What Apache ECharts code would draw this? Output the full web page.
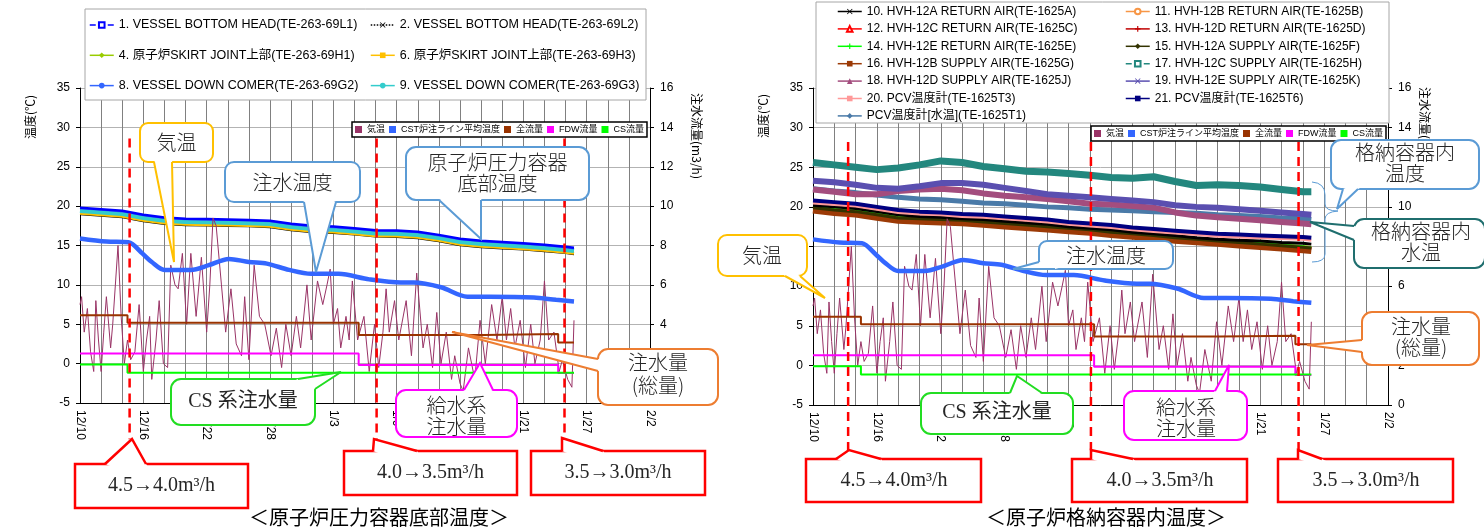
<!DOCTYPE html>
<html><head><meta charset="utf-8">
<script src="https://cdn.jsdelivr.net/npm/echarts@6/dist/echarts.min.js"></script>
<style>html,body{margin:0;padding:0;background:#fff}#c{width:1484px;height:529px}</style>
</head><body><div id="c"></div>
<script>
// ---------- data ----------
const tickLabels = ['12/10','12/16','12/22','12/28','1/3','1/9','1/15','1/21','1/27','2/2'];
// days since 12/10
const tempDays = [0,2,4,6,8,10,12,14,16,18,20,22,24,26,28,30,32,34,36,38,40,42,44,46,46.8];
// left chart: RPV bottom temperatures
const vesL1 = [19.8,19.6,19.4,18.9,18.55,18.4,18.35,18.3,18.25,18.15,17.75,17.5,17.4,17.2,16.95,16.9,16.75,16.35,15.85,15.6,15.45,15.3,15.1,14.85,14.7];
const vesL2 = [18.95,18.75,18.55,18.05,17.7,17.55,17.5,17.45,17.4,17.3,16.9,16.65,16.55,16.35,16.1,16.05,15.9,15.5,15.0,14.75,14.6,14.45,14.25,14.0,13.85];
const vesH1 = [19.3,19.1,18.9,18.4,18.05,17.9,17.85,17.8,17.75,17.65,17.25,17.0,16.9,16.7,16.45,16.4,16.25,15.85,15.35,15.1,14.95,14.8,14.6,14.35,14.2];
const vesH3 = [19.1,18.9,18.7,18.2,17.85,17.7,17.65,17.6,17.55,17.45,17.05,16.8,16.7,16.5,16.25,16.2,16.05,15.65,15.15,14.9,14.75,14.6,14.4,14.15,14.0];
const vesG2 = [19.7,19.5,19.3,18.8,18.45,18.3,18.25,18.2,18.15,18.05,17.65,17.4,17.3,17.1,16.85,16.8,16.65,16.25,15.75,15.5,15.35,15.2,15.0,14.75,14.6];
const vesG3 = [19.45,19.25,19.05,18.55,18.2,18.05,18.0,17.95,17.9,17.8,17.4,17.15,17.05,16.85,16.6,16.55,16.4,16.0,15.5,15.25,15.1,14.95,14.75,14.5,14.35];
// right chart: PCV temperatures
const pcv10 = [20.2,20.0,19.8,19.4,19.0,18.8,18.7,18.5,18.4,18.2,18.0,17.8,17.5,17.3,17.1,16.8,16.6,16.4,16.1,15.9,15.8,15.7,15.5,15.4,15.3];
const pcv11 = [20.1,19.8,19.6,19.2,18.8,18.7,18.6,18.5,18.3,18.1,17.9,17.7,17.5,17.3,17.0,16.8,16.6,16.3,16.1,15.9,15.7,15.5,15.3,15.1,15.0];
const pcv12 = [19.95,19.65,19.45,19.05,18.65,18.55,18.45,18.35,18.15,17.95,17.75,17.55,17.35,17.15,16.85,16.65,16.45,16.15,15.95,15.75,15.55,15.35,15.15,14.95,14.85];
const pcv13 = [19.8,19.5,19.3,18.9,18.5,18.4,18.3,18.2,18.0,17.8,17.6,17.4,17.2,17.0,16.7,16.5,16.3,16.0,15.8,15.6,15.4,15.2,15.0,14.8,14.7];
const pcv14 = [20.05,19.75,19.55,19.15,18.75,18.65,18.55,18.45,18.25,18.05,17.85,17.65,17.45,17.25,16.95,16.75,16.55,16.25,16.05,15.85,15.65,15.45,15.25,15.05,14.95];
const pcv15 = [19.9,19.6,19.4,19.0,18.6,18.5,18.4,18.3,18.1,17.9,17.7,17.5,17.3,17.1,16.8,16.6,16.4,16.1,15.9,15.7,15.5,15.3,15.1,14.9,14.8];
const pcv16 = [19.6,19.3,19.1,18.7,18.3,18.2,18.1,18.0,17.8,17.6,17.4,17.2,17.0,16.8,16.5,16.3,16.1,15.8,15.6,15.4,15.2,15.0,14.8,14.6,14.5];
const pcv17 = [25.6,25.3,25.0,24.7,24.9,25.3,25.8,25.6,25.1,24.8,24.5,24.4,24.2,24.0,23.7,23.6,23.8,23.2,22.7,22.8,22.7,22.5,22.2,21.9,21.9];
const pcv18 = [22.2,21.9,21.6,21.6,22.0,22.2,22.3,22.1,21.7,21.4,21.2,21.0,20.7,20.4,20.3,20.1,19.9,19.3,18.9,18.7,18.5,18.3,18.1,17.9,17.8];
const pcv19 = [23.3,23.1,22.8,22.4,22.3,22.6,23.0,23.0,22.8,22.4,22.0,21.6,21.4,21.2,21.0,20.8,20.6,20.2,20.0,19.9,19.7,19.5,19.3,19.1,19.0];
const pcv20 = [20.5,20.3,20.1,19.7,19.3,19.1,19.0,18.8,18.7,18.5,18.3,18.1,17.8,17.6,17.4,17.1,16.9,16.7,16.5,16.3,16.2,16.1,16.0,15.9,15.8];
const pcv21 = [20.8,20.6,20.4,20.0,19.6,19.4,19.3,19.1,19.0,18.8,18.6,18.4,18.1,17.9,17.7,17.4,17.2,17.0,16.8,16.6,16.5,16.4,16.3,16.2,16.1];
const pcvT1 = [22.3,22.0,21.8,21.5,21.2,21.0,20.9,20.7,20.5,20.4,20.2,20.0,19.9,19.7,19.6,19.5,19.4,19.3,19.2,19.0,18.9,18.8,18.6,18.5,18.4];
// air temperature
const airDays = [0,0.15,0.4,0.7,1.0,1.3,1.5,1.75,2.0,2.25,2.5,2.9,3.1,3.6,3.9,4.2,4.5,4.8,5.2,5.6,6.0,6.3,6.6,6.8,7.2,7.5,7.9,8.3,8.6,9.0,9.3,9.7,10.1,10.5,11.0,11.5,12.0,12.3,12.6,12.9,13.4,13.8,14.3,14.8,15.3,15.6,16.0,16.5,17.0,17.5,18.1,18.6,19.1,19.5,20.0,20.5,20.9,21.5,21.9,22.5,23.0,23.4,23.7,24.0,24.4,24.7,25.2,25.5,25.8,26.3,26.9,27.4,27.9,28.3,28.7,29.0,29.3,29.8,30.2,30.9,31.4,31.9,32.5,32.9,33.4,33.8,34.2,34.7,35.2,35.5,36.0,36.3,36.8,37.4,37.9,38.4,39.0,39.5,40.0,40.4,40.8,41.2,41.7,42.2,42.7,43.1,43.6,44.0,44.4,44.9,45.4,45.7,46.2,46.6,46.8];
const airTemp = [7.5,8.5,4.0,7.0,1.5,-1.0,8.0,3.0,-1.0,4.0,8.5,2.0,5.0,15.0,6.0,0.0,3.0,0.5,1.5,7.5,-1.0,3.0,6.0,-2.0,3.0,8.0,0.0,-0.5,12.5,10.0,9.5,14.0,5.0,14.0,6.0,13.5,4.0,10.0,18.5,17.5,10.0,4.0,9.5,2.5,1.0,8.5,0.5,12.5,6.0,5.0,1.0,4.5,-0.5,5.0,1.0,6.0,2.0,10.0,3.0,10.5,7.5,10.0,12.0,5.0,7.0,2.0,6.0,3.0,10.5,3.0,6.0,-1.0,5.0,-0.5,4.0,9.5,4.0,8.0,3.0,8.0,1.0,11.5,2.0,5.0,-0.5,6.5,0.0,4.0,-2.0,1.0,-2.5,-3.5,2.0,-2.0,5.5,0.0,7.5,3.0,8.5,3.0,7.0,2.0,5.5,-0.5,5.0,0.0,3.0,10.5,3.0,4.0,-1.0,0.5,-2.0,-3.0,5.5];
// CST injection line temperature
const cstDays = [0,2.5,4.6,5.9,6.8,8.0,10.5,12.2,14.1,16.0,17.7,19.8,21.9,24.5,27.4,30.4,31.6,34.2,36.7,38.8,43.0,45.1,46.8];
const cstTemp = [15.9,15.5,15.4,14.0,12.9,11.9,11.9,12.5,13.3,12.9,12.7,11.9,11.4,11.4,10.7,10.3,10.3,9.7,8.5,8.5,8.4,8.1,7.9];
// flows (m3/h)
const totalDays = [0,4.5,26.4,38.2,45.3,46.8];
const totalFlow = [4.46,4.07,3.46,3.5,3.07,3.07];
const fdwDays = [0,26.4,45.3,46.8];
const fdwFlow = [2.51,1.93,1.52,1.52];
const csDays = [0,4.5,46.8];
const csFlow = [1.95,1.54,1.54];
// injection-rate change markers (days)
const changeDaysL = [4.7,28.1,45.9];
const changeDaysR = [3.3,26.1,45.6];
const changeLabels = ['4.5→4.0m³/h','4.0→3.5m³/h','3.5→3.0m³/h'];

// ---------- chart ----------
const FONT = 'Liberation Sans, Noto Sans CJK JP, sans-serif';
const CJK = '"Noto Sans CJK JP"';
const pairs = (xs, ys) => xs.map((x, i) => [x, ys[i]]);
const X_SYM = 'path://M1,0L5,4L9,0L10,1L6,5L10,9L9,10L5,6L1,10L0,9L4,5L0,1Z';
const PLUS_SYM = 'path://M4,0H6V4H10V6H6V10H4V6H0V4H4Z';

function ls(name, xi, yi, xs, ys, color, width, extra) {
  return Object.assign({
    type: 'line', name, xAxisIndex: xi, yAxisIndex: yi, data: pairs(xs, ys),
    showSymbol: false, symbol: 'circle', symbolSize: 6,
    lineStyle: { color, width }, itemStyle: { color }, emphasis: { disabled: true },
    animation: false, z: 2
  }, extra || {});
}

function makeX(gi) {
  return {
    type: 'value', gridIndex: gi, min: 0, max: 54, interval: 2,
    axisLine: { show: true, onZero: false, lineStyle: { color: '#000', width: 1 } },
    axisTick: { show: false },
    splitLine: { show: true, lineStyle: { color: '#808080', width: 1 } },
    axisLabel: {
      rotate: -90, margin: 7, fontSize: 12, color: '#000', fontFamily: FONT,
      showMinLabel: true, showMaxLabel: true,
      formatter: v => { const k = Math.round(v); return k % 6 === 0 ? tickLabels[k / 6] : ''; }
    }
  };
}
function makeYT(gi) {
  return {
    type: 'value', gridIndex: gi, min: -5, max: 35, interval: 5, position: 'left',
    axisLine: { show: true, onZero: false, lineStyle: { color: '#000' } },
    axisTick: { show: true, length: 4, lineStyle: { color: '#000' } },
    splitLine: { show: true, lineStyle: { color: '#b3b3b3' } },
    axisLabel: { fontSize: 12, color: '#000', margin: 10, fontFamily: FONT }
  };
}
function makeYF(gi) {
  return {
    type: 'value', gridIndex: gi, min: 0, max: 16, interval: 2, position: 'right',
    axisLine: { show: true, onZero: false, lineStyle: { color: '#000' } },
    axisTick: { show: true, length: 4, lineStyle: { color: '#000' } },
    splitLine: { show: false },
    axisLabel: { fontSize: 12, color: '#000', margin: 10, fontFamily: FONT }
  };
}

const N = {
  L1: '1. VESSEL BOTTOM HEAD(TE-263-69L1)', L2: '2. VESSEL BOTTOM HEAD(TE-263-69L2)',
  H1: '4. 原子炉SKIRT JOINT上部(TE-263-69H1)', H3: '6. 原子炉SKIRT JOINT上部(TE-263-69H3)',
  G2: '8. VESSEL DOWN COMER(TE-263-69G2)', G3: '9. VESSEL DOWN COMER(TE-263-69G3)',
  p10: '10. HVH-12A RETURN AIR(TE-1625A)', p11: '11. HVH-12B RETURN AIR(TE-1625B)',
  p12: '12. HVH-12C RETURN AIR(TE-1625C)', p13: '13. HVH-12D RETURN AIR(TE-1625D)',
  p14: '14. HVH-12E RETURN AIR(TE-1625E)', p15: '15. HVH-12A SUPPLY AIR(TE-1625F)',
  p16: '16. HVH-12B SUPPLY AIR(TE-1625G)', p17: '17. HVH-12C SUPPLY AIR(TE-1625H)',
  p18: '18. HVH-12D SUPPLY AIR(TE-1625J)', p19: '19. HVH-12E SUPPLY AIR(TE-1625K)',
  p20: '20. PCV温度計(TE-1625T3)', p21: '21. PCV温度計(TE-1625T6)', pT1: 'PCV温度計[水温](TE-1625T1)',
  air: '気温', cst: 'CST炉注ライン平均温度', tot: '全流量', fdw: 'FDW流量', cs: 'CS流量'
};

function commonSeries(xi, yT, yF, changes, top, bot) {
  const s = [
    ls(N.air, xi, yT, airDays, airTemp, '#993366', 1),
    ls(N.cst, xi, yT, cstDays, cstTemp, '#3366ff', 4.5, { smooth: 0.3 }),
    ls(N.tot, xi, yF, totalDays, totalFlow, '#993300', 2, { step: 'end' }),
    ls(N.fdw, xi, yF, fdwDays, fdwFlow, '#ff00ff', 2, { step: 'end' }),
    ls(N.cs, xi, yF, csDays, csFlow, '#00ff00', 2, { step: 'end' })
  ];
  changes.forEach((d, i) => {
    s.push({
      type: 'line', name: 'change' + xi + '_' + i, xAxisIndex: xi, yAxisIndex: yT,
      data: [[d, top], [d, bot]], symbol: 'none', clip: false, silent: true,
      lineStyle: { color: '#ff0000', width: 2.5, type: [9, 6] }, z: 3, animation: false
    });
  });
  return s;
}

const series = [
  ls(N.L2, 0, 0, tempDays, vesL2, '#000000', 1.5, { symbol: X_SYM }),
  ls(N.H3, 0, 0, tempDays, vesH3, '#ffc000', 3, { symbol: 'rect' }),
  ls(N.H1, 0, 0, tempDays, vesH1, '#99cc00', 1.5, { symbol: 'diamond' }),
  ls(N.G3, 0, 0, tempDays, vesG3, '#33cccc', 5, { symbol: 'none' }),
  ls(N.G2, 0, 0, tempDays, vesG2, '#3366ff', 1.5, { symbol: 'circle', symbolSize: 4 }),
  ls(N.L1, 0, 0, tempDays, vesL1, '#0000ff', 2.5, { symbol: 'emptyRect' }),
  ...commonSeries(0, 0, 1, changeDaysL, 28.6, -9.6),
  ls(N.p11, 1, 2, tempDays, pcv11, '#f79646', 1.5, { symbol: 'emptyCircle' }),
  ls(N.p12, 1, 2, tempDays, pcv12, '#ff0000', 1.5, { symbol: 'emptyTriangle' }),
  ls(N.p13, 1, 2, tempDays, pcv13, '#c00000', 1.5, { symbol: PLUS_SYM }),
  ls(N.p14, 1, 2, tempDays, pcv14, '#00ff00', 1.5, { symbol: PLUS_SYM }),
  ls(N.p16, 1, 2, tempDays, pcv16, '#9c3a06', 7, { symbol: 'rect' }),
  ls(N.p15, 1, 2, tempDays, pcv15, '#333300', 3, { symbol: 'diamond' }),
  ls(N.p10, 1, 2, tempDays, pcv10, '#000000', 3, { symbol: X_SYM }),
  ls(N.p20, 1, 2, tempDays, pcv20, '#ff9999', 3, { symbol: 'rect', symbolSize: 4 }),
  ls(N.p21, 1, 2, tempDays, pcv21, '#000080', 4, { symbol: 'rect', symbolSize: 3 }),
  ls(N.pT1, 1, 2, tempDays, pcvT1, '#4a7aa8', 5, { symbol: 'diamond' }),
  ls(N.p18, 1, 2, tempDays, pcv18, '#a34d7e', 6, { symbol: 'triangle' }),
  ls(N.p19, 1, 2, tempDays, pcv19, '#5a4fb0', 6, { symbol: X_SYM }),
  ls(N.p17, 1, 2, tempDays, pcv17, '#23877e', 7, { symbol: 'emptyRect' }),
  ...commonSeries(1, 2, 3, changeDaysR, 28.2, -10.7)
];

const DASHED = { L1: 'dashed', L2: 'dotted', p17: 'dashed' };
function legendItems(keys) {
  return keys.map(k => DASHED[k] ? { name: N[k], lineStyle: { type: DASHED[k], width: 1.5 } } : N[k]);
}
function mainLegend(left, top, keys, fs, lh, gap, ih) {
  return {
    left, top, orient: 'vertical', padding: 0, itemGap: gap, itemWidth: 24, itemHeight: ih,
    data: legendItems(keys), selectedMode: false, z: 10,
    lineStyle: { width: 1.5 },
    textStyle: { fontSize: fs, lineHeight: lh, color: '#000', fontFamily: FONT }
  };
}
function innerLegend(left, top) {
  return {
    left, top, orient: 'horizontal', padding: [2, 3, 2, 3], itemGap: 4, itemWidth: 7, itemHeight: 7,
    icon: 'rect', data: [N.air, N.cst, N.tot, N.fdw, N.cs], selectedMode: false, z: 10,
    backgroundColor: '#fff', borderColor: '#000', borderWidth: 1.5,
    textStyle: { fontSize: 9, lineHeight: 11, color: '#000', fontFamily: FONT }
  };
}

// ---------- callouts (annotation graphics) ----------
function callout(c) {
  const els = [];
  const z = 50;
  els.push({ type: 'rect', z, shape: { x: c.x, y: c.y, width: c.w, height: c.h, r: c.r || 0 },
    style: { fill: '#fff', stroke: c.color, lineWidth: c.lw || 2 } });
  const cx = c.x + c.w / 2, cy = c.y + c.h / 2;
  els.push({ type: 'polygon', z: z + 1, shape: { points: [c.b1, c.tip, c.b2, [cx, cy]] }, style: { fill: '#fff', stroke: null } });
  els.push({ type: 'polyline', z: z + 2, shape: { points: [c.b1, c.tip, c.b2] },
    style: { fill: null, stroke: c.color, lineWidth: c.lw || 2, miterLimit: 3 } });
  c.lines.forEach(l => els.push({ type: 'text', z: z + 3, x: l[1], y: l[2],
    style: { text: l[0], font: c.font || ('300 20px ' + CJK), fill: '#262626',
      align: 'center', verticalAlign: 'middle', textAlign: 'center', textVerticalAlign: 'middle' } }));
  return els;
}
function qcurve(x1, y1, cx, cy, x2, y2) {
  return { type: 'bezierCurve', z: 20, shape: { x1, y1, cpx1: cx, cpy1: cy, x2, y2 }, style: { fill: null, stroke: '#5b9bd5', lineWidth: 1 } };
}
function seg(x1, y1, x2, y2) {
  return { type: 'line', z: 20, shape: { x1, y1, x2, y2 }, style: { stroke: '#5b9bd5', lineWidth: 1 } };
}
const SERIF = '20px "Liberation Serif", ' + CJK;
const BLUE = '#5b9bd5', ORANGE = '#ed7d31', YEL = '#ffc000', GREEN = '#22dd22', MAG = '#ff00ff', RED = '#ff0000';

const graphics = [
  // legend frames
  { type: 'rect', z: 8, shape: { x: 85, y: 9, width: 561, height: 91 }, style: { fill: '#fff', stroke: '#a6a6a6', lineWidth: 1 } },
  { type: 'rect', z: 8, shape: { x: 816, y: 2, width: 573, height: 121 }, style: { fill: '#fff', stroke: '#a6a6a6', lineWidth: 1 } },
  // axis titles
  { type: 'text', z: 20, x: 30, y: 117, rotation: Math.PI / 2, style: { text: '温度(℃)', font: '12px ' + CJK, fill: '#000', align: 'center', verticalAlign: 'middle' } },
  { type: 'text', z: 20, x: 697, y: 136, rotation: -Math.PI / 2, style: { text: '注水流量(m3/h)', font: '12px ' + CJK, fill: '#000', align: 'center', verticalAlign: 'middle' } },
  { type: 'text', z: 20, x: 763, y: 116, rotation: Math.PI / 2, style: { text: '温度(℃)', font: '12px ' + CJK, fill: '#000', align: 'center', verticalAlign: 'middle' } },
  { type: 'text', z: 20, x: 1425, y: 130, rotation: -Math.PI / 2, style: { text: '注水流量(m3/h)', font: '12px ' + CJK, fill: '#000', align: 'center', verticalAlign: 'middle' } },
  // titles
  { type: 'text', z: 20, x: 379, y: 517, style: { text: '＜原子炉圧力容器底部温度＞', font: '20px ' + CJK, fill: '#000', align: 'center', verticalAlign: 'middle' } },
  { type: 'text', z: 20, x: 1106, y: 517, style: { text: '＜原子炉格納容器内温度＞', font: '20px ' + CJK, fill: '#000', align: 'center', verticalAlign: 'middle' } },
  // brace
  qcurve(1312, 182, 1325, 183, 1325, 195), seg(1325, 195, 1325, 204), qcurve(1325, 204, 1325, 211, 1338, 211),
  qcurve(1338, 211, 1325, 212, 1325, 219), seg(1325, 219, 1325, 254), qcurve(1325, 254, 1325, 262, 1312, 262),
  // left chart callouts
  ...callout({ x: 140, y: 123, w: 73, h: 39, r: 8, color: YEL, b1: [154, 162], b2: [172, 162], tip: [174, 262], lines: [['気温', 176.5, 142.5]] }),
  ...callout({ x: 225, y: 162, w: 135, h: 40, r: 9, color: BLUE, b1: [304, 202], b2: [336, 202], tip: [316, 272], lines: [['注水温度', 292.5, 182]] }),
  ...callout({ x: 406, y: 147, w: 183, h: 53, r: 10, color: BLUE, b1: [439, 200], b2: [481, 200], tip: [481, 239], lines: [['原子炉圧力容器', 497.5, 162], ['底部温度', 497.5, 183]] }),
  ...callout({ x: 598, y: 349, w: 120, h: 56, r: 10, color: ORANGE, b1: [598, 359], b2: [598, 371], tip: [452, 332], lines: [['注水量', 658, 362], ['(総量)', 658, 385]] }),
  ...callout({ x: 171, y: 379, w: 144, h: 46, r: 10, color: GREEN, b1: [298, 379], b2: [315, 389], tip: [341, 372], lines: [['CS 系注水量', 243, 402]], font: SERIF }),
  ...callout({ x: 396, y: 390, w: 121, h: 47, r: 10, color: MAG, b1: [464, 390], b2: [493, 390], tip: [480, 363], lines: [['給水系', 456.5, 405], ['注水量', 456.5, 426]] }),
  ...callout({ x: 75, y: 464, w: 173, h: 44, r: 0, lw: 2.5, color: RED, b1: [105, 464], b2: [146, 464], tip: [132, 439], lines: [[changeLabels[0], 161.5, 486]], font: SERIF }),
  ...callout({ x: 344, y: 451, w: 173, h: 44, r: 0, lw: 2.5, color: RED, b1: [373, 451], b2: [417, 451], tip: [374, 439], lines: [[changeLabels[1], 430.5, 473]], font: SERIF }),
  ...callout({ x: 531, y: 451, w: 174, h: 44, r: 0, lw: 2.5, color: RED, b1: [562, 451], b2: [603, 451], tip: [562, 438], lines: [[changeLabels[2], 618, 473]], font: SERIF }),
  // right chart callouts
  ...callout({ x: 718, y: 235, w: 89, h: 41, r: 9, color: YEL, b1: [785, 276], b2: [800, 276], tip: [825, 298], lines: [['気温', 762, 255.5]] }),
  ...callout({ x: 1039, y: 241, w: 134, h: 28, r: 8, color: BLUE, b1: [1039, 262], b2: [1055, 269], tip: [1013, 269], lines: [['注水温度', 1106, 255]] }),
  ...callout({ x: 1362, y: 312, w: 117, h: 53, r: 10, color: ORANGE, b1: [1362, 340], b2: [1362, 352], tip: [1307, 345], lines: [['注水量', 1421, 326], ['(総量)', 1421, 347]] }),
  ...callout({ x: 1331, y: 140, w: 148, h: 49, r: 10, color: BLUE, b1: [1343, 189], b2: [1358, 189], tip: [1337, 209], lines: [['格納容器内', 1405, 152], ['温度', 1405, 173]] }),
  ...callout({ x: 1354, y: 219, w: 131, h: 49, r: 10, color: '#1f6e6e', b1: [1354, 226], b2: [1354, 240], tip: [1310, 222], lines: [['格納容器内', 1421, 231], ['水温', 1421, 252]] }),
  ...callout({ x: 921, y: 393, w: 152, h: 41, r: 10, color: GREEN, b1: [1010, 393], b2: [1042, 393], tip: [1017, 376], lines: [['CS 系注水量', 997, 413]], font: SERIF }),
  ...callout({ x: 1124, y: 391, w: 123, h: 49, r: 10, color: MAG, b1: [1215, 391], b2: [1227, 391], tip: [1229, 365], lines: [['給水系', 1186, 407], ['注水量', 1186, 428]] }),
  ...callout({ x: 806, y: 459, w: 175, h: 43, r: 0, lw: 2.5, color: RED, b1: [836, 459], b2: [881, 459], tip: [849, 450], lines: [[changeLabels[0], 894, 481]], font: SERIF }),
  ...callout({ x: 1072, y: 459, w: 175, h: 43, r: 0, lw: 2.5, color: RED, b1: [1091, 459], b2: [1133, 459], tip: [1091, 450], lines: [[changeLabels[1], 1160, 481]], font: SERIF }),
  ...callout({ x: 1278, y: 459, w: 175, h: 43, r: 0, lw: 2.5, color: RED, b1: [1298, 459], b2: [1322, 459], tip: [1298, 450], lines: [[changeLabels[2], 1366, 481]], font: SERIF })
];

const option = {
  animation: false,
  backgroundColor: '#fff',
  grid: [
    { left: 80, top: 88, width: 570, height: 315, outerBoundsMode: 'none', containLabel: false },
    { left: 813, top: 88, width: 575, height: 317, outerBoundsMode: 'none', containLabel: false }
  ],
  xAxis: [makeX(0), makeX(1)],
  yAxis: [makeYT(0), makeYF(0), makeYT(1), makeYF(1)],
  legend: [
    mainLegend(89, 18, ['L1', 'H1', 'G2'], 12.5, 14, 16.3, 7),
    mainLegend(370, 18, ['L2', 'H3', 'G3'], 12.5, 14, 16.3, 7),
    mainLegend(837, 5.5, ['p10', 'p12', 'p14', 'p16', 'p18', 'p20', 'pT1'], 12, 12, 5.4, 7),
    mainLegend(1125, 5.5, ['p11', 'p13', 'p15', 'p17', 'p19', 'p21'], 12, 12, 5.4, 7),
    innerLegend(352, 122),
    innerLegend(1091, 126)
  ],
  series,
  graphic: { elements: graphics }
};

const chart = echarts.init(document.getElementById('c'), null, { renderer: 'canvas' });
chart.setOption(option);
</script>
</body></html>
